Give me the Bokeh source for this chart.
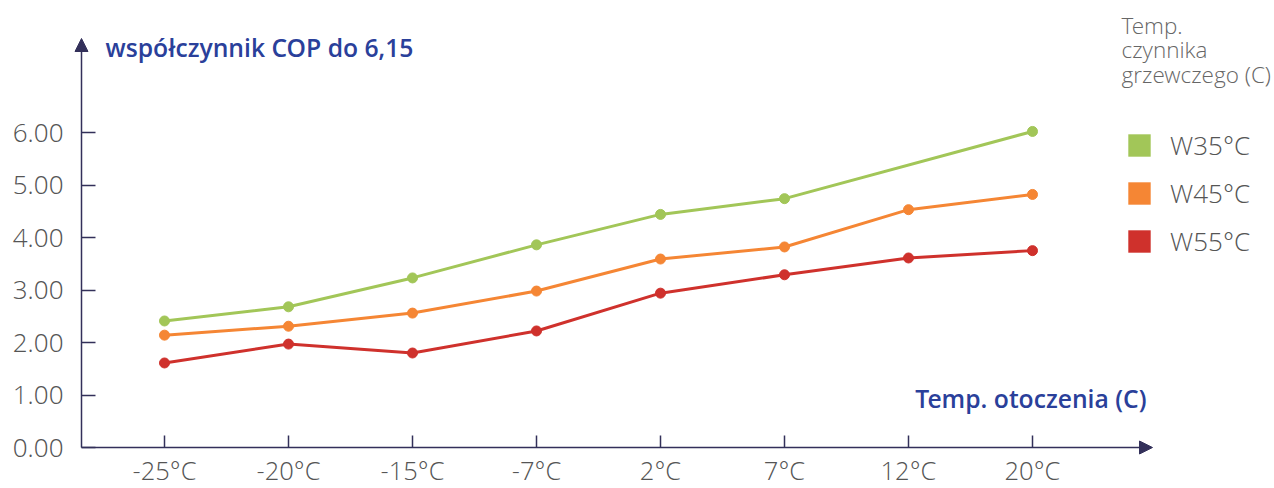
from bokeh.plotting import figure
from bokeh.models import (Range1d, FixedTicker, NumeralTickFormatter, Label, Arrow,
                          NormalHead, Legend, LegendItem, ColumnDataSource)
from bokeh.embed import file_html
from bokeh.resources import INLINE

# ---- data ----
categories = ["-25°C", "-20°C", "-15°C", "-7°C", "2°C", "7°C", "12°C", "20°C"]
w35 = [2.41, 2.68, 3.23, 3.86, 4.44, 4.74, None, 6.02]
w45 = [2.14, 2.31, 2.56, 2.98, 3.59, 3.82, 4.53, 4.82]
w55 = [1.61, 1.97, 1.80, 2.22, 2.94, 3.29, 3.61, 3.75]
series_names = ["W35°C", "W45°C", "W55°C"]
series_colors = ["#a2c658", "#f58634", "#cf312c"]
y_ticks = [0, 1, 2, 3, 4, 5, 6]
title_text = "współczynnik COP do 6,15"
xlabel_text = "Temp. otoczenia (C)"
legend_title = "Temp.\nczynnika\ngrzewczego (C)"

W, H = 1274, 488
AXX, AXY = 81, 447               # axis origin in px
ARROW_X, ARROW_Y = 1152, 38      # arrow tips in px
X0PX, XSTEP = 164, 124           # category spacing in px
YUNIT = 52.5

def dx(px):
    return (px - X0PX) / XSTEP

def dy(py):
    return (AXY - py) / YUNIT

axis_col = "#33305a"
tick_col = "#555555"
blue = "#2a409a"
LIGHT = "'Open Sans Light', 'Open Sans'"
SEMI = "'Open Sans SemiBold', 'Open Sans'"

p = figure(width=W, height=H, output_backend="svg", toolbar_location=None,
           x_range=Range1d(dx(0), dx(W)), y_range=Range1d(dy(H), dy(0)),
           min_border=0)
p.outline_line_color = None
p.grid.visible = False
p.background_fill_color = "white"
p.border_fill_color = "white"

xa = p.xaxis[0]
xa.fixed_location = 0
xa.ticker = FixedTicker(ticks=list(range(len(categories))))
xa.major_label_overrides = {i: c for i, c in enumerate(categories)}
xa.major_tick_in = 12
xa.major_tick_out = 0
xa.minor_tick_line_color = None
xa.axis_line_color = None
xa.major_tick_line_color = axis_col
xa.major_tick_line_width = 1.5
xa.major_label_text_font = LIGHT
xa.major_label_text_font_size = "25.5px"
xa.major_label_text_color = tick_col
xa.major_label_standoff = 5

ya = p.yaxis[0]
ya.fixed_location = dx(AXX)
ya.ticker = FixedTicker(ticks=y_ticks)
ya.formatter = NumeralTickFormatter(format="0.00")
ya.major_tick_in = 14
ya.major_tick_out = 0
ya.minor_tick_line_color = None
ya.axis_line_color = None
ya.major_tick_line_color = axis_col
ya.major_tick_line_width = 1.5
ya.major_label_text_font = LIGHT
ya.major_label_text_font_size = "26px"
ya.major_label_text_color = tick_col
ya.major_label_standoff = 18

# axis lines with arrow heads
p.add_layout(Arrow(x_start=dx(AXX), y_start=0, x_end=dx(AXX), y_end=dy(ARROW_Y),
                   line_color=axis_col, line_width=1.5,
                   end=NormalHead(size=13, fill_color=axis_col, line_color=axis_col)))
p.add_layout(Arrow(x_start=dx(AXX), y_start=0, x_end=dx(ARROW_X), y_end=0,
                   line_color=axis_col, line_width=1.5,
                   end=NormalHead(size=13, fill_color=axis_col, line_color=axis_col)))

# series
legend_items = []
nan = float("nan")
for name, vals, col in zip(series_names, [w35, w45, w55], series_colors):
    xs = [i for i, v in enumerate(vals) if v is not None]
    ys = [v for v in vals if v is not None]
    src = ColumnDataSource(dict(x=xs, y=ys))
    p.line("x", "y", source=src, line_color=col, line_width=3)
    p.scatter("x", "y", source=src, size=10, fill_color=col, line_color=col)
    sq = p.quad(left=[nan], right=[nan], top=[nan], bottom=[nan],
                fill_color=col, line_color=None)
    legend_items.append(LegendItem(label=name, renderers=[sq]))

legend = Legend(items=legend_items, location=(1125, H - 259),
                glyph_width=28, glyph_height=28, label_standoff=17, spacing=12,
                padding=0, margin=0, border_line_color=None, background_fill_alpha=0,
                label_text_font=LIGHT, label_text_font_size="26px",
                label_text_color=tick_col, label_height=28)
p.add_layout(legend)

p.add_layout(Label(x=dx(105), y=dy(47), text=title_text, text_font=SEMI,
                   text_font_size="24.7px", text_color=blue,
                   text_baseline="middle", text_align="left"))
p.add_layout(Label(x=dx(1146), y=dy(398), text=xlabel_text, text_font=SEMI,
                   text_font_size="24.7px", text_color=blue,
                   text_baseline="middle", text_align="right"))
p.add_layout(Label(x=dx(1121), y=dy(9), text=legend_title, text_font=LIGHT,
                   text_font_size="22.5px", text_color="#666666",
                   text_baseline="top", text_align="left", text_line_height=0.8))

open("out.html", "w").write(file_html(p, INLINE))
